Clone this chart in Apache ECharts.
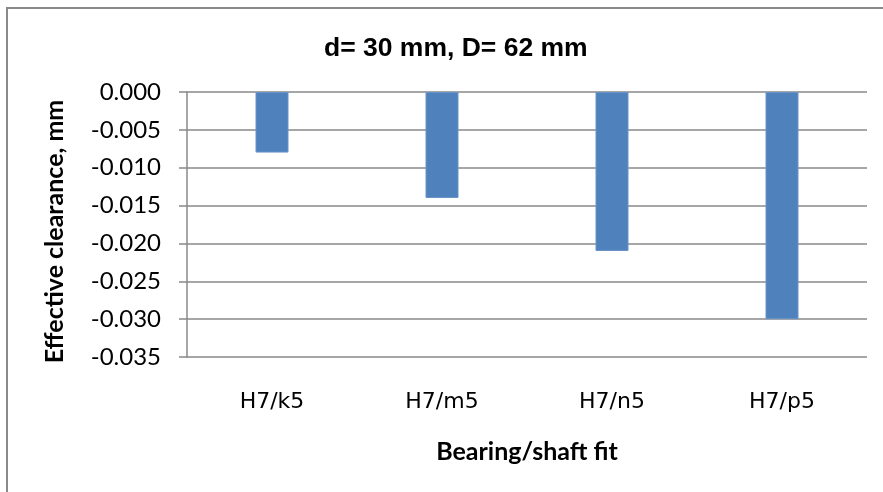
<!DOCTYPE html>
<html>
<head>
<meta charset="utf-8">
<script src="https://cdn.jsdelivr.net/npm/echarts@6/dist/echarts.min.js"></script>
<style>
  html, body { margin: 0; padding: 0; background: #ffffff; }
  #chart { width: 883px; height: 492px; }
</style>
</head>
<body>
<div id="chart"></div>
<script>
// Fit categories and effective clearance (mm)
const fits = ['H7/k5', 'H7/m5', 'H7/n5', 'H7/p5'];
const clearance = [-0.008, -0.014, -0.021, -0.030];

const chartTitle = 'd= 30 mm, D= 62 mm';
const xTitle = 'Bearing/shaft fit';
const yTitle = 'Effective clearance, mm';

const chart = echarts.init(document.getElementById('chart'), null, { renderer: 'canvas' });

chart.setOption({
  backgroundColor: '#ffffff',
  animation: false,
  title: {
    text: chartTitle,
    left: 319,
    top: 30,
    textStyle: {
      fontFamily: 'Liberation Sans',
      fontWeight: 'bold',
      fontSize: 26.5,
      color: '#000000'
    }
  },
  graphic: [{
    type: 'rect',
    shape: { x: 7, y: 8, width: 900, height: 500 },
    style: { fill: 'none', stroke: '#8a8a8a', lineWidth: 2 },
    silent: true
  }],
  grid: { left: 187, right: 16, top: 92, bottom: 135 },
  xAxis: {
    type: 'category',
    data: fits,
    position: 'bottom',
    axisLine: { show: false },
    axisTick: { show: false },
    axisLabel: {
      margin: 34,
      fontFamily: 'DejaVu Sans',
      fontSize: 22,
      color: '#000000'
    },
    name: xTitle,
    nameLocation: 'middle',
    nameGap: 82,
    nameTextStyle: {
      fontFamily: 'Lato',
      fontWeight: 'bold',
      fontSize: 25,
      color: '#000000'
    }
  },
  yAxis: {
    type: 'value',
    min: -0.035,
    max: 0,
    interval: 0.005,
    axisLine: { show: true, lineStyle: { color: '#888888', width: 1.5 } },
    axisTick: { show: true, length: 8, lineStyle: { color: '#888888', width: 1.5 } },
    splitLine: { show: true, lineStyle: { color: '#888888', width: 1.5 } },
    axisLabel: {
      margin: 26,
      fontFamily: 'Lato',
      fontSize: 24,
      color: '#000000',
      formatter: v => (Math.abs(v) < 1e-9 ? 0 : v).toFixed(3)
    },
    name: yTitle,
    nameLocation: 'middle',
    nameGap: 120,
    nameTextStyle: {
      fontFamily: 'Lato',
      fontWeight: 'bold',
      fontSize: 25,
      color: '#000000',
      padding: [0, 14, 0, 0]
    }
  },
  series: [{
    type: 'bar',
    data: clearance,
    barWidth: 33,
    itemStyle: { color: '#4f81bd', borderColor: '#6b94c6', borderWidth: 1 }
  }]
});
</script>
</body>
</html>
